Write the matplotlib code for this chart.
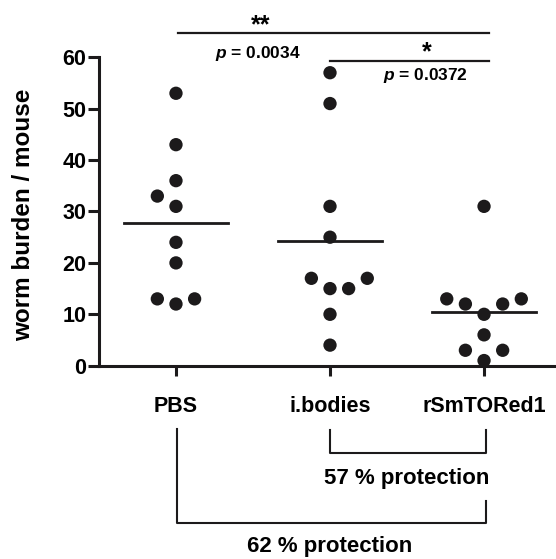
import numpy as np
import matplotlib.pyplot as plt

plt.rcParams['font.family'] = ['Liberation Sans', 'DejaVu Sans']
plt.rcParams['font.weight'] = 'bold'
plt.rcParams['mathtext.fontset'] = 'custom'
plt.rcParams['mathtext.it'] = 'Liberation Sans:italic:bold'
plt.rcParams['mathtext.rm'] = 'Liberation Sans:bold'

# worm counts per mouse
groups = ['PBS', 'i.bodies', 'rSmTORed1']
pbs = [53, 43, 36, 33, 31, 24, 20, 13, 12, 13]
ibodies = [57, 51, 31, 25, 17, 15, 15, 17, 10, 4]
rsmtored1 = [31, 13, 12, 12, 13, 10, 6, 3, 3, 1]
# side-by-side slot of each dot (beeswarm layout)
pbs_slot = [0, 0, 0, -1, 0, 0, 0, -1, 0, 1]
ibodies_slot = [0, 0, 0, 0, -1, 0, 1, 2, 0, 0]
rsm_slot = [0, -2, -1, 1, 2, 0, 0, -1, 1, 0]

sig_labels = ['**', '*']
p_values = ['0.0034', '0.0372']
protection = ['57 % protection', '62 % protection']

ink = '#1c1a1b'
slot_w = 0.121

fig = plt.figure(figsize=(5.56, 5.59), dpi=100)
ax = fig.add_axes([0.178, 0.3458, 0.820, 0.5517])

for i, (vals, slots) in enumerate(zip([pbs, ibodies, rsmtored1],
                                      [pbs_slot, ibodies_slot, rsm_slot])):
    xs = i + np.array(slots) * slot_w
    ax.scatter(xs, vals, s=92, color=ink, edgecolors='none', zorder=3, clip_on=False)
    m = np.mean(vals)
    ax.plot([i - 0.34, i + 0.34], [m, m], color=ink, lw=2.0, zorder=2)

ax.set_xlim(-0.5, 2.46)
ax.set_ylim(0, 60)
ax.set_yticks([0, 10, 20, 30, 40, 50, 60])
ax.set_xticks([0, 1, 2])
ax.set_xticklabels(groups, fontsize=15.5, fontweight='bold')
ax.tick_params(axis='y', labelsize=15.5, length=8, width=2.2, pad=1, color=ink)
ax.tick_params(axis='x', length=7, width=2.2, pad=15, color=ink)
for lab in ax.get_yticklabels():
    lab.set_fontweight('bold')
for side in ['top', 'right']:
    ax.spines[side].set_visible(False)
for side in ['left', 'bottom']:
    ax.spines[side].set_linewidth(2.2)
    ax.spines[side].set_color(ink)

ax.set_ylabel('worm burden / mouse', fontsize=17.5, fontweight='bold')
ax.yaxis.set_label_coords(-0.14, 0.49)

# significance bars above
ax.plot([0.01, 2.03], [64.7, 64.7], color=ink, lw=1.6, clip_on=False)
ax.plot([1.0, 2.03], [59.3, 59.3], color=ink, lw=1.6, clip_on=False)
ax.text(0.552, 64.8, sig_labels[0], fontsize=18, ha='center', va='baseline', clip_on=False)
ax.text(1.63, 59.7, sig_labels[1], fontsize=18, ha='center', va='baseline', clip_on=False)
ax.text(0.53, 59.9, '$p$ = ' + p_values[0], fontsize=12.5, ha='center', va='baseline')
ax.text(1.62, 55.6, '$p$ = ' + p_values[1], fontsize=12.5, ha='center', va='baseline')

# protection brackets below
ax.plot([1.0, 1.0, 2.01, 2.01], [-12.5, -17.0, -17.0, -12.5], color=ink, lw=1.5, clip_on=False)
ax.plot([0.006, 0.006, 2.01, 2.01], [-12.4, -30.7, -30.7, -26.4], color=ink, lw=1.5, clip_on=False)
ax.text(1.498, -23.0, protection[0], fontsize=16, ha='center', va='baseline')
ax.text(1.0, -36.3, protection[1], fontsize=16, ha='center', va='baseline')

fig.savefig('out.png', dpi=100)
